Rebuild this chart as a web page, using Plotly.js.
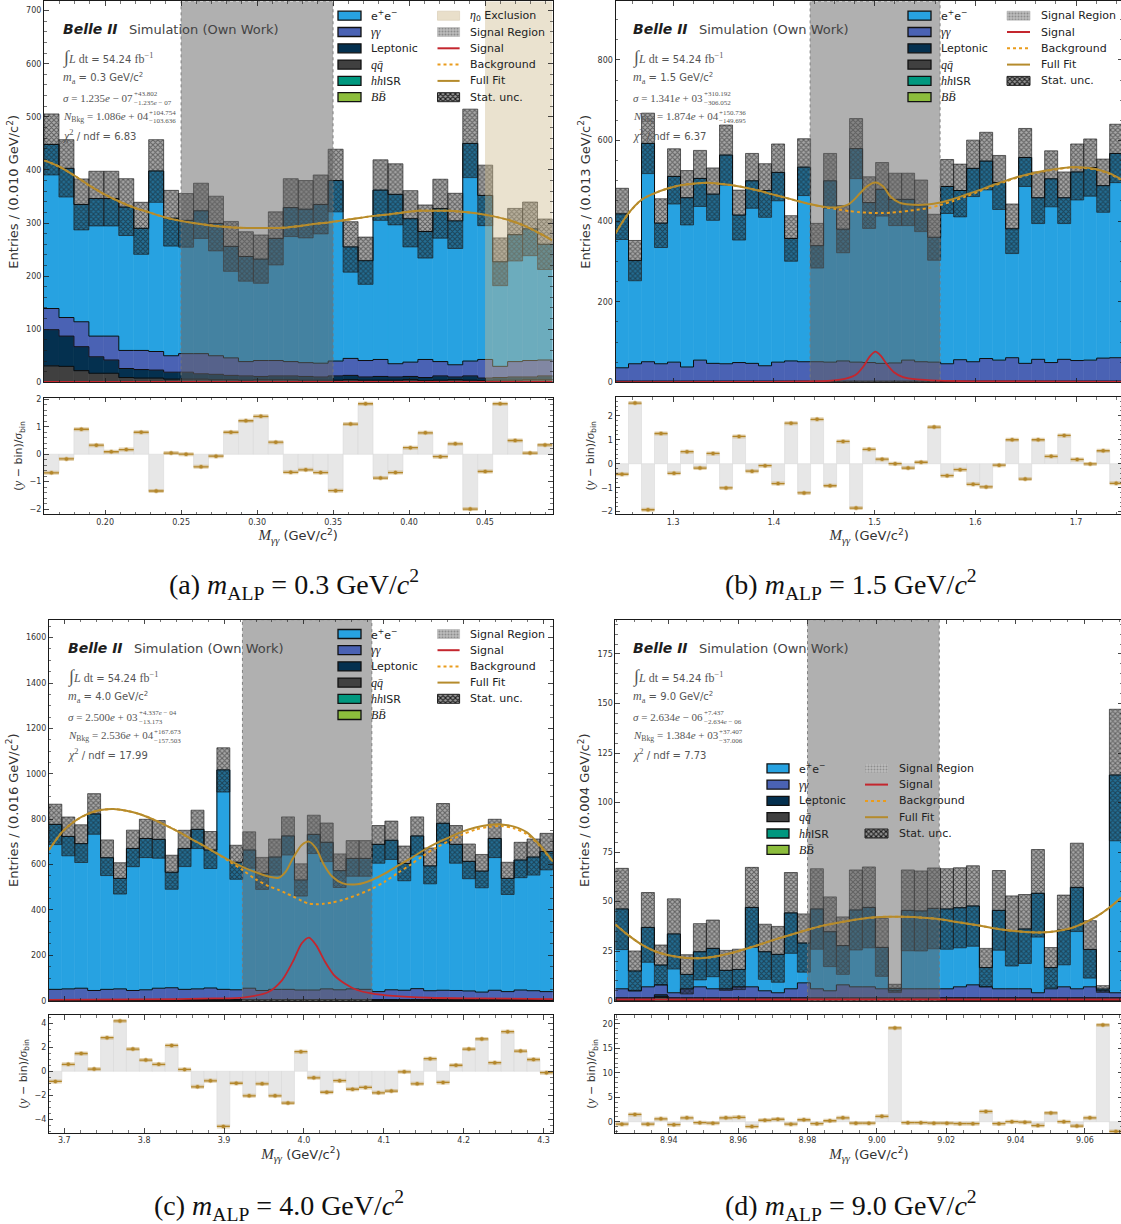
<!DOCTYPE html>
<html>
<head>
<meta charset="utf-8">
<script src="https://cdn.plot.ly/plotly-3.0.1.min.js"></script>
<style>
  html, body { margin: 0; padding: 0; overflow: hidden; background: #fff; }
  #chart { width: 1126px; height: 1224px; }
</style>
</head>
<body>
<div id="chart"></div>
<script>
// Figure size in px (slightly wider than the window so the right-hand panels run to the edge)
const W = 1126, H = 1224;
const fx = x => x / W;
const fy = y => 1 - y / H;

// ================= (a) m_ALP = 0.3 GeV/c^2 =================
const binLoA = 0.1598, binWidthA = 0.009841;
const eeA  = [309, 281, 221, 259, 259, 270, 230, 340, 259, 251, 269, 249, 210, 198, 191, 230, 290, 289, 299, 340, 210, 188, 319, 319, 270, 241, 288, 271, 410, 309, 197, 239, 248, 218];
const ggA  = [40, 35, 47, 39, 45, 34, 36, 35, 31, 35, 38, 35, 33, 27, 30, 29, 27, 26, 26, 28, 32, 31, 32, 25, 27, 34, 27, 23, 28, 35, 21, 29, 31, 30];
const lepA = [68, 57, 45, 31, 25, 17, 16, 15, 13, 13, 10, 10, 8, 8, 6, 7, 7, 7, 6, 8, 8, 6, 7, 6, 6, 6, 8, 5, 8, 5, 5, 6, 5, 7];
const qqA  = [31, 30, 22, 17, 17, 9, 8, 8, 6, 6, 6, 5, 5, 4, 5, 5, 5, 4, 4, 4, 5, 4, 4, 4, 5, 3, 4, 5, 4, 3, 4, 4, 5, 5];
const hhA  = [0, 0, 0, 0, 0, 0, 0, 0, 0, 0, 0, 0, 0, 0, 0, 0, 0, 0, 0, 0, 0, 0, 0, 0, 0, 0, 0, 0, 0, 0, 0, 0, 0, 0];
const bbA  = [0, 0, 0, 0, 0, 0, 0, 0, 0, 0, 0, 0, 0, 0, 0, 0, 0, 0, 0, 0, 0, 0, 0, 0, 0, 0, 0, 0, 0, 0, 0, 0, 0, 0];
const errA = [57.5, 54, 48, 51.5, 51.5, 53.5, 49, 59, 52.5, 50.5, 52, 51.5, 47, 46.5, 45.5, 50, 54.5, 54, 55.5, 59, 47.5, 44.5, 57, 57.5, 53, 50, 55.5, 52, 64.5, 57, 45, 49.5, 50.5, 47.5];
const pullA = [-0.68, -0.17, 0.91, 0.33, 0.09, 0.17, 0.80, -1.34, 0.04, 0.00, -0.46, -0.07, 0.80, 1.22, 1.38, 0.44, -0.66, -0.57, -0.67, -1.33, 1.10, 1.84, -0.87, -0.67, 0.24, 0.78, -0.09, 0.38, -2.00, -0.63, 1.84, 0.50, 0.04, 0.34];
const fitXA = [0.160, 0.170, 0.180, 0.189, 0.199, 0.209, 0.219, 0.229, 0.239, 0.248, 0.258, 0.268, 0.278, 0.288, 0.298, 0.307, 0.317, 0.327, 0.337, 0.347, 0.357, 0.366, 0.376, 0.386, 0.396, 0.406, 0.416, 0.426, 0.435, 0.445, 0.455, 0.465, 0.475, 0.485, 0.494];
const fitYA = [418, 406, 389, 372, 355, 341, 329, 320, 311, 305, 300, 296, 293, 291, 290.6, 290.6, 291, 294, 298, 301, 305, 309, 313, 316, 320, 323, 323, 323, 321, 318, 313, 306, 296, 282, 268];
const bkgXA = [0.160, 0.170, 0.180, 0.189, 0.199, 0.209, 0.219, 0.229, 0.239, 0.248, 0.258, 0.268, 0.278, 0.288, 0.298, 0.307, 0.317, 0.327, 0.337, 0.347, 0.357, 0.366, 0.376, 0.386, 0.396, 0.406, 0.416, 0.426, 0.435, 0.445, 0.455, 0.465, 0.475, 0.485, 0.494];
const bkgYA = [418, 406, 389, 372, 355, 341, 329, 320, 311, 305, 300, 296, 293, 291, 290.6, 290.6, 291, 294, 298, 301, 305, 309, 313, 316, 320, 323, 323, 323, 321, 318, 313, 306, 296, 282, 268];
const sigXA = [0.1598, 0.4944];
const sigYA = [0.6, 0.6];
const srA = [0.25, 0.35];
const exclA = [0.45, 0.4944];

// ================= (b) m_ALP = 1.5 GeV/c^2 =================
const binLoB = 1.2428, binWidthB = 0.012910;
const eeB  = [382, 256, 542, 349, 461, 420, 451, 420, 518, 366, 453, 435, 471, 304, 483, 288, 450, 327, 530, 397, 432, 406, 399, 387, 310, 440, 420, 480, 490, 441, 320, 511, 401, 456, 401, 468, 478, 428, 507];
const ggB  = [33, 43, 48, 43, 47, 35, 52, 44, 43, 46, 44, 38, 47, 50, 48, 48, 47, 50, 47, 46, 44, 45, 52, 48, 47, 43, 53, 48, 56, 52, 58, 44, 54, 46, 54, 51, 52, 57, 58];
const lepB = [2, 2, 2, 2, 2, 2, 2, 2, 2, 2, 2, 2, 2, 2, 2, 2, 2, 2, 2, 2, 2, 2, 2, 2, 2, 2, 2, 2, 2, 2, 2, 2, 2, 2, 2, 2, 2, 2, 2];
const qqB  = [1, 1, 1, 1, 1, 1, 1, 1, 1, 1, 1, 1, 1, 1, 1, 1, 1, 1, 1, 1, 1, 1, 1, 1, 1, 1, 1, 1, 1, 1, 1, 1, 1, 1, 1, 1, 1, 1, 1];
const hhB  = [0, 0, 0, 0, 0, 0, 0, 0, 0, 0, 0, 0, 0, 0, 0, 0, 0, 0, 0, 0, 0, 0, 0, 0, 0, 0, 0, 0, 0, 0, 0, 0, 0, 0, 0, 0, 0, 0, 0];
const bbB  = [0, 0, 0, 0, 0, 0, 0, 0, 0, 0, 0, 0, 0, 0, 0, 0, 0, 0, 0, 0, 0, 0, 0, 0, 0, 0, 0, 0, 0, 0, 0, 0, 0, 0, 0, 0, 0, 0, 0];
const errB = [63.5, 50, 75, 60.5, 68.5, 67.5, 69.5, 65, 74.5, 62, 68, 66.5, 70.5, 56.5, 70.5, 55.5, 68, 58.5, 74.5, 64, 66.5, 65, 65, 64, 57, 67, 65.5, 70, 71.5, 67, 61.5, 72, 64, 69.5, 64, 69.5, 71, 66, 72.5];
const pullB = [-0.44, 2.53, -1.92, 1.26, -0.40, 0.50, -0.18, 0.43, -1.01, 1.14, -0.31, -0.08, -0.83, 1.69, -1.22, 1.85, -0.92, 0.93, -1.85, 0.60, 0.19, 0.00, -0.18, 0.06, 1.53, -0.50, -0.25, -0.86, -0.97, -0.06, 1.00, -0.64, 1.00, 0.31, 1.18, 0.18, -0.01, 0.54, -0.82];
const fitXB = [1.2428, 1.2556, 1.2687, 1.2814, 1.2945, 1.3073, 1.3201, 1.3332, 1.3459, 1.3590, 1.3718, 1.3846, 1.3977, 1.4104, 1.4235, 1.4363, 1.4491, 1.4622, 1.4749, 1.4856, 1.4927, 1.5008, 1.5086, 1.5157, 1.5246, 1.5352, 1.5526, 1.5653, 1.5781, 1.5912, 1.6039, 1.6170, 1.6298, 1.6426, 1.6557, 1.6684, 1.6815, 1.6943, 1.7071, 1.7202, 1.7329, 1.7460];
const fitYB = [370, 419, 453, 469, 481, 489, 493, 495, 493, 489, 483, 476, 467, 459, 450, 442, 436, 434, 443, 469, 487, 496, 486, 461, 446, 441, 441, 446, 455, 466, 477, 489, 500, 510, 518, 525, 530, 534, 533, 529, 519, 502];
const bkgXB = [1.2428, 1.2556, 1.2687, 1.2814, 1.2945, 1.3073, 1.3201, 1.3332, 1.3459, 1.3590, 1.3718, 1.3846, 1.3977, 1.4104, 1.4235, 1.4363, 1.4491, 1.4622, 1.4749, 1.4856, 1.4927, 1.5008, 1.5086, 1.5157, 1.5246, 1.5352, 1.5526, 1.5653, 1.5781, 1.5912, 1.6039, 1.6170, 1.6298, 1.6426, 1.6557, 1.6684, 1.6815, 1.6943, 1.7071, 1.7202, 1.7329, 1.7460];
const bkgYB = [370, 419, 453, 469, 481, 489, 493, 495, 493, 489, 483, 476, 467, 459, 450, 442, 435, 430, 425, 422, 421, 420, 420, 421, 423, 426, 432, 440, 450, 462, 474, 487, 498, 509, 517, 524, 529, 533, 532, 528, 518, 501];
const sigXB = [1.2428, 1.365, 1.436, 1.457, 1.4714, 1.482, 1.4891, 1.4955, 1.5008, 1.5061, 1.5121, 1.5192, 1.5281, 1.5423, 1.5635, 1.5954, 1.7463];
const sigYB = [0.5, 0.8, 2, 4, 9, 20, 40, 65, 76, 66, 45, 25, 13, 7, 4, 2.5, 1];
const srB = [1.436, 1.565];

// ================= (c) m_ALP = 4.0 GeV/c^2 =================
const binLoC = 3.6807, binWidthC = 0.016179;
const eeC  = [727, 672, 637, 778, 580, 487, 626, 667, 656, 509, 621, 703, 608, 967, 562, 609, 516, 583, 676, 485, 686, 646, 525, 575, 577, 649, 659, 559, 673, 550, 736, 644, 571, 533, 669, 499, 573, 589, 617];
const ggC  = [45, 47, 50, 40, 45, 47, 40, 43, 50, 52, 45, 47, 51, 45, 43, 50, 40, 45, 45, 42, 42, 47, 43, 47, 45, 35, 43, 41, 48, 39, 41, 40, 38, 33, 41, 35, 42, 39, 35];
const lepC = [3, 3, 3, 3, 3, 3, 3, 3, 3, 3, 3, 3, 3, 3, 3, 3, 3, 3, 3, 3, 3, 3, 3, 3, 3, 3, 3, 3, 3, 3, 3, 3, 3, 3, 3, 3, 3, 3, 3];
const qqC  = [2, 2, 2, 2, 2, 2, 2, 2, 2, 2, 2, 2, 2, 2, 2, 2, 2, 2, 2, 2, 2, 2, 2, 2, 2, 2, 2, 2, 2, 2, 2, 2, 2, 2, 2, 2, 2, 2, 2];
const hhC  = [0, 0, 0, 0, 0, 0, 0, 0, 0, 0, 0, 0, 0, 0, 0, 0, 0, 0, 0, 0, 0, 0, 0, 0, 0, 0, 0, 0, 0, 0, 0, 0, 0, 0, 0, 0, 0, 0, 0];
const bbC  = [0, 0, 0, 0, 0, 0, 0, 0, 0, 0, 0, 0, 0, 0, 0, 0, 0, 0, 0, 0, 0, 0, 0, 0, 0, 0, 0, 0, 0, 0, 0, 0, 0, 0, 0, 0, 0, 0, 0];
const errC = [89, 85.5, 83, 89.5, 78.5, 69, 80.5, 84.5, 83, 75, 80, 84.5, 81.5, 97.5, 75, 80, 70.5, 79.5, 84, 71, 84.5, 85, 74, 78.5, 78.5, 83, 84.5, 76.5, 84, 79, 87, 83, 76.5, 73.5, 84.5, 71, 78, 79.5, 80.5];
const pullC = [-0.85, 0.58, 1.48, 0.18, 2.80, 4.20, 1.85, 0.93, 0.58, 2.15, 0.15, -1.30, -0.80, -4.60, -1.00, -2.05, -1.05, -2.05, -2.65, 1.63, -0.55, -1.75, -0.78, -1.50, -1.35, -1.80, -1.65, -0.05, -1.05, 1.05, -0.93, 0.50, 1.85, 2.70, 0.72, 3.30, 1.68, 0.98, -0.12];
const fitXC = [3.6807, 3.6977, 3.7133, 3.7294, 3.7455, 3.7616, 3.7777, 3.7938, 3.8099, 3.8265, 3.8426, 3.8587, 3.8748, 3.8909, 3.9074, 3.9235, 3.9396, 3.9557, 3.9683, 3.9772, 3.9861, 3.9973, 4.0063, 4.0152, 4.0241, 4.0353, 4.0487, 4.0666, 4.0850, 4.1015, 4.1176, 4.1337, 4.1498, 4.1659, 4.1820, 4.1981, 4.2147, 4.2308, 4.2469, 4.2630, 4.2791, 4.2952, 4.3117];
const fitYC = [664, 745, 792, 823, 840, 845, 837, 823, 801, 774, 745, 713, 682, 649, 617, 589, 566, 547, 542, 569, 627, 686, 701, 671, 605, 547, 517, 513, 532, 561, 595, 627, 663, 694, 720, 745, 763, 774, 777, 767, 742, 686, 613];
const bkgXC = [3.6807, 3.6977, 3.7133, 3.7294, 3.7455, 3.7616, 3.7777, 3.7938, 3.8099, 3.8265, 3.8426, 3.8587, 3.8748, 3.8909, 3.9074, 3.9235, 3.9396, 3.9557, 3.9683, 3.9772, 3.9861, 3.9973, 4.0063, 4.0152, 4.0241, 4.0353, 4.0487, 4.0666, 4.0850, 4.1015, 4.1176, 4.1337, 4.1498, 4.1659, 4.1820, 4.1981, 4.2147, 4.2308, 4.2469, 4.2630, 4.2791, 4.2952, 4.3117];
const bkgYC = [664, 745, 792, 823, 840, 845, 837, 823, 801, 774, 745, 713, 682, 649, 612, 575, 535, 505, 488, 474, 460, 440, 428, 425, 427, 433, 444, 466, 493, 525, 563, 600, 640, 675, 705, 732, 754, 766, 770, 760, 734, 683, 610];
const sigXC = [3.6807, 3.8430, 3.8878, 3.9235, 3.9548, 3.9727, 3.9861, 3.9973, 4.0063, 4.0152, 4.0264, 4.0376, 4.0510, 4.0666, 4.0845, 4.1114, 4.1561, 4.2231, 4.3117];
const sigYC = [4, 7, 10, 14, 37, 91, 172, 253, 278, 245, 172, 113, 76, 47, 32, 21, 13, 10, 7];
const srC = [3.923, 4.085];

// ================= (d) m_ALP = 9.0 GeV/c^2 =================
const binLoD = 8.9246, binWidthD = 0.003749;
const eeD  = [40.3, 10.0, 30.0, 10.0, 29.7, 7.3, 17.7, 20.4, 9.3, 8.8, 40.1, 19.7, 19.4, 38.3, 20.1, 40.3, 29.8, 19.8, 38.8, 40.1, 20.9, 1.2, 39.6, 39.3, 40.6, 40.3, 39.9, 39.8, 9.7, 39.6, 29.2, 30.2, 50.2, 10.7, 28.7, 51.2, 18.9, 0.9, 109.9];
const ggD  = [4.5, 3.5, 5.5, 5.0, 2.5, 4.5, 5.5, 4.5, 4.5, 5.5, 5.5, 3.5, 2.5, 4.5, 7.5, 4.5, 3.5, 6.5, 5.5, 5.5, 4.5, 3.5, 4.5, 4.5, 4.5, 4.5, 5.5, 6.5, 5.5, 4.5, 4.5, 4.5, 2.5, 4.5, 5.5, 4.5, 5.5, 3.5, 2.5];
const lepD = [1, 1, 1, 1, 1, 1, 1, 1, 1, 1, 1, 1, 1, 1, 1, 1, 1, 1, 1, 1, 1, 1, 1, 1, 1, 1, 1, 1, 1, 1, 1, 1, 1, 1, 1, 1, 1, 1, 1];
const qqD  = [0.5, 0.5, 0.5, 0.5, 0.5, 0.5, 0.5, 0.5, 0.5, 0.5, 0.5, 0.5, 0.5, 0.5, 0.5, 0.5, 0.5, 0.5, 0.5, 0.5, 0.5, 0.5, 0.5, 0.5, 0.5, 0.5, 0.5, 0.5, 0.5, 0.5, 0.5, 0.5, 0.5, 0.5, 0.5, 0.5, 0.5, 0.5, 0.5];
const hhD  = [0, 0, 0, 1.5, 0, 0, 0, 0, 0, 0, 0, 0, 0, 0, 0, 0, 0, 0, 0, 0, 0, 0, 0, 0, 0, 0, 0, 0, 0, 0, 0, 0, 0, 0, 0, 0, 0, 0, 0];
const bbD  = [0, 0, 0, 0, 0, 0, 0, 0, 0, 0, 0, 0, 0, 0, 0, 0, 0, 0, 0, 0, 0, 0, 0, 0, 0, 0, 0, 0, 0, 0, 0, 0, 0, 0, 0, 0, 0, 0, 0];
const errD = [20.5, 10.1, 17.6, 10.1, 17.7, 9.9, 14.2, 14.3, 10.1, 10.2, 20.2, 13.9, 14.1, 20.4, 14.7, 20.3, 17.6, 14.5, 20.2, 20.4, 14.6, 2.1, 20.4, 20.2, 20.4, 20.3, 20.2, 20.3, 9.7, 20.1, 17.7, 17.4, 22.1, 10.1, 17.6, 22.3, 14.5, 1.7, 33.2];
const pullD = [-0.5, 1.5, -0.5, 0.6, -0.6, 0.8, -0.2, -0.3, 0.8, 0.9, -1.0, 0.3, 0.5, -0.5, 0.4, -0.4, 0.2, 0.8, -0.3, -0.3, 1.1, 19.2, -0.2, -0.2, -0.3, -0.3, -0.4, -0.4, 2.1, -0.4, 0.0, -0.1, -0.8, 1.8, 0.0, -0.9, 0.8, 19.8, -2.0];
const fitXD = [8.9246, 8.9283, 8.9321, 8.9358, 8.9396, 8.9433, 8.9470, 8.9509, 8.9546, 8.9584, 8.9621, 8.9658, 8.9696, 8.9733, 8.9771, 8.9808, 8.9845, 8.9883, 8.9920, 8.9958, 8.9996, 9.0033, 9.0071, 9.0108, 9.0146, 9.0183, 9.0220, 9.0258, 9.0295, 9.0333, 9.0370, 9.0407, 9.0445, 9.0483, 9.0520, 9.0558, 9.0595, 9.0633, 9.0670, 9.0708];
const fitYD = [38.5, 33.1, 28.4, 25.1, 23.1, 21.9, 21.4, 21.7, 22.7, 24.2, 26.1, 28.1, 30.3, 32.3, 34.3, 36.2, 37.9, 39.2, 40.4, 41.4, 42.1, 42.4, 42.4, 42.2, 41.7, 41.1, 40.0, 39.0, 37.9, 36.7, 35.7, 35.0, 34.5, 34.5, 35.2, 36.5, 39.0, 42.4, 46.9, 52.5];
const bkgXD = fitXD.slice();
const bkgYD = [38.5, 33.1, 28.4, 25.1, 23.1, 21.9, 21.4, 21.7, 22.7, 24.2, 26.1, 28.1, 30.3, 32.3, 34.3, 36.2, 37.9, 39.2, 40.4, 41.4, 42.1, 42.4, 42.4, 42.2, 41.7, 41.1, 40.0, 39.0, 37.9, 36.7, 35.7, 35.0, 34.5, 34.5, 35.2, 36.5, 39.0, 42.4, 46.9, 52.5];
const sigXD = [8.9246, 9.0708];
const sigYD = [0.6, 0.6];
const srD = [8.980, 9.018];

// ---------------- styling ----------------
const COLORS = {
  ee: '#27a2e1', gg: '#4a62b4', lep: '#04304f', qq: '#404040', hh: '#00987f', bb: '#8cbd3c',
  signal: '#c4262e', bkg: '#ea9c1c', fit: '#b58b2c', pull: '#b3862a',
};
const STACK = ['bb', 'hh', 'qq', 'lep', 'gg', 'ee'];   // bottom -> top

const panels = [
  { tag: 'a', mass: '0.3', binLabel: '0.010', lo: binLoA, bw: binWidthA,
    comp: {ee: eeA, gg: ggA, lep: lepA, qq: qqA, hh: hhA, bb: bbA}, err: errA, pull: pullA,
    fit: [fitXA, fitYA], bkg: [bkgXA, bkgYA], sig: [sigXA, sigYA], sr: srA, excl: exclA,
    sigma: ['1.235<i>e</i> − 07', '+43.802', '−1.235<i>e</i> − 07'],
    nbkg: ['1.086<i>e</i> + 04', '+104.754', '−103.636'], chi2: '6.83' },
  { tag: 'b', mass: '1.5', binLabel: '0.013', lo: binLoB, bw: binWidthB,
    comp: {ee: eeB, gg: ggB, lep: lepB, qq: qqB, hh: hhB, bb: bbB}, err: errB, pull: pullB,
    fit: [fitXB, fitYB], bkg: [bkgXB, bkgYB], sig: [sigXB, sigYB], sr: srB, excl: null,
    sigma: ['1.341<i>e</i> + 03', '+310.192', '−306.052'],
    nbkg: ['1.874<i>e</i> + 04', '+150.736', '−149.695'], chi2: '6.37' },
  { tag: 'c', mass: '4.0', binLabel: '0.016', lo: binLoC, bw: binWidthC,
    comp: {ee: eeC, gg: ggC, lep: lepC, qq: qqC, hh: hhC, bb: bbC}, err: errC, pull: pullC,
    fit: [fitXC, fitYC], bkg: [bkgXC, bkgYC], sig: [sigXC, sigYC], sr: srC, excl: null,
    sigma: ['2.500<i>e</i> + 03', '+4.337<i>e</i> − 04', '−13.173'],
    nbkg: ['2.536<i>e</i> + 04', '+167.673', '−157.503'], chi2: '17.99' },
  { tag: 'd', mass: '9.0', binLabel: '0.004', lo: binLoD, bw: binWidthD,
    comp: {ee: eeD, gg: ggD, lep: lepD, qq: qqD, hh: hhD, bb: bbD}, err: errD, pull: pullD,
    fit: [fitXD, fitYD], bkg: [bkgXD, bkgYD], sig: [sigXD, sigYD], sr: srD, excl: null,
    sigma: ['2.634<i>e</i> − 06', '+7.437', '−2.634<i>e</i> − 06'],
    nbkg: ['1.384<i>e</i> + 03', '+37.407', '−37.006'], chi2: '7.73' },
];

// pixel geometry of each panel block
const GEO = [
  { x: [44, 552.5], main: [1.3, 382.3], res: [397.7, 514.3], yMax: 717.6, rRange: [-2.19, 2.06],
    yDt: 100, yMin: 20, xDt: 0.05, xMin: 0.01, xFmt: '.2f', rDt: 1, rMin: 0.2,
    info: [61, 29], legRows: [15.7, 16.3], c1: [338, 361, 369], c2: [437.5, 459.6, 468], cap: [294, 584] },
  { x: [615.5, 1122.7], main: [1.3, 382.3], res: [397.3, 514.3], yMax: 945.6, rRange: [-2.11, 2.77],
    yDt: 200, yMin: 50, xDt: 0.1, xMin: 0.02, xFmt: '.1f', rDt: 1, rMin: 0.2,
    info: [631, 29], legRows: [15.7, 16.3], c1: [908, 931, 939], c2: [1007, 1030, 1039], cap: [851, 584] },
  { x: [48.9, 552.9], main: [619.7, 1000.7], res: [1015, 1132.7], yMax: 1679, rRange: [-5.12, 4.69],
    yDt: 200, yMin: 50, xDt: 0.1, xMin: 0.02, xFmt: '.1f', rDt: 2, rMin: 0.5,
    info: [66, 648], legRows: [634, 16.2], c1: [338, 361, 369], c2: [437.5, 459.6, 468], cap: [279, 1205] },
  { x: [615.4, 1122.4], main: [619.7, 1000.7], res: [1015, 1132.7], yMax: 192.3, rRange: [-2.25, 21.84],
    yDt: 25, yMin: 5, xDt: 0.02, xMin: 0.005, xFmt: '.2f', rDt: 5, rMin: 1,
    info: [631, 648], legRows: [768.3, 16.3], c1: [767, 789, 797.5], c2: [865, 888, 897], cap: [851, 1205] },
];

const traces = [];
const shapes = [];
const annotations = [];
const layout = {
  width: W, height: H,
  margin: {l: 0, r: 0, t: 0, b: 0},
  paper_bgcolor: '#ffffff', plot_bgcolor: 'rgba(0,0,0,0)',
  showlegend: false, hovermode: false,
  barmode: 'overlay', bargap: 0,
  font: {family: 'DejaVu Sans', color: '#333'},
};

const ax = i => (i === 1 ? '' : String(i));

function axisBase(extra) {
  return Object.assign({
    showline: true, linecolor: '#1a1a1a', linewidth: 1, mirror: 'allticks',
    ticks: 'inside', ticklen: 4.5, tickwidth: 0.8, tickcolor: '#1a1a1a',
    showgrid: false, zeroline: false, fixedrange: true, automargin: false,
    tickfont: {family: 'DejaVu Sans', size: 8, color: '#333'},
    tickmode: 'linear', tick0: 0,
  }, extra);
}
function minor(dt) {
  return {ticks: 'inside', ticklen: 2.5, tickwidth: 0.6, tickcolor: '#1a1a1a', dtick: dt, showgrid: false};
}

// text helpers
const measureCtx = document.createElement('canvas').getContext('2d');
function textWidth(str, font) { measureCtx.font = font; return measureCtx.measureText(str).width; }
function stripTags(s) { return s.replace(/<[^>]+>/g, ''); }
function note(x, y, text, font, extra) {
  annotations.push(Object.assign({
    xref: 'paper', yref: 'paper', x: fx(x), y: fy(y), text: text,
    showarrow: false, xanchor: 'left', yanchor: 'middle', font: font,
  }, extra || {}));
}
const SERIF = 'font-family:Liberation Serif';
const MATHFONT = 'Liberation Serif';

function infoBlock(P, g) {
  const x0 = g.info[0], y0 = g.info[1];
  const gray = '#555';
  const sans = {family: 'DejaVu Sans', size: 10, color: gray};
  const serif = {family: MATHFONT, size: 11, color: gray};
  const tiny = {family: MATHFONT, size: 7, color: gray};
  note(x0, y0, '<b><i>Belle II</i></b>', {family: 'DejaVu Sans', size: 14, color: '#1e1e1e'});
  note(x0 + 66, y0, 'Simulation (Own Work)', {family: 'DejaVu Sans', size: 13, color: '#444'});
  note(x0, y0 + 28, `<span style="${SERIF};font-size:18px"><i>∫</i></span><span style="${SERIF};font-size:12px"><i>L</i> dt</span> = 54.24 <span style="${SERIF};font-size:12px">fb<sup>−1</sup></span>`, sans);
  note(x0, y0 + 49, `<span style="${SERIF};font-size:12px"><i>m</i><sub>a</sub></span> = ${P.mass} GeV/c<sup>2</sup>`, sans);
  // σ with stacked upper / lower uncertainties
  const ws = textWidth('σ = ' + stripTags(P.sigma[0]), '11px "Liberation Serif"');
  note(x0, y0 + 69, `<i>σ</i> = ${P.sigma[0]}`, serif);
  note(x0 + ws + 1.5, y0 + 65, P.sigma[1], tiny);
  note(x0 + ws + 1.5, y0 + 73.5, P.sigma[2], tiny);
  // N_Bkg with stacked upper / lower uncertainties
  const wn = textWidth('N', 'italic 11px "Liberation Serif"') + textWidth('Bkg', '7.7px "Liberation Serif"') +
             textWidth(' = ' + stripTags(P.nbkg[0]), '11px "Liberation Serif"');
  note(x0, y0 + 88, `<i>N</i><sub>Bkg</sub> = ${P.nbkg[0]}`, serif);
  note(x0 + wn + 1.5, y0 + 84, P.nbkg[1], tiny);
  note(x0 + wn + 1.5, y0 + 92.5, P.nbkg[2], tiny);
  note(x0, y0 + 106, `<span style="${SERIF};font-size:12px"><i>χ</i><sup>2</sup></span> / ndf = ${P.chi2}`, sans);
}

function rectShape(x0, x1, yc, fill, lineColor, lw) {
  shapes.push({type: 'rect', xref: 'paper', yref: 'paper', layer: 'above',
    x0: fx(x0), x1: fx(x1), y0: fy(yc + 4.5), y1: fy(yc - 4.5),
    fillcolor: fill, line: {color: lineColor, width: lw}});
}
function lineShape(x0, x1, yc, color, dash) {
  shapes.push({type: 'line', xref: 'paper', yref: 'paper', layer: 'above',
    x0: fx(x0), x1: fx(x1), y0: fy(yc), y1: fy(yc), line: {color: color, width: 2, dash: dash}});
}
function hatchPatch(x0, x1, yc, pattern, lineColor, lw) {
  traces.push({type: 'scatter', mode: 'lines', xaxis: 'x9', yaxis: 'y9',
    x: [x0, x1, x1, x0, x0], y: [yc - 4.5, yc - 4.5, yc + 4.5, yc + 4.5, yc - 4.5],
    fill: 'toself', fillcolor: 'rgba(0,0,0,0)', fillpattern: pattern,
    line: {color: lineColor, width: lw}, hoverinfo: 'skip'});
}

// cross-hatch of the statistical-uncertainty band
const HATCH_UNC = {shape: 'x', fgcolor: '#151515', bgcolor: 'rgba(30,30,30,0.38)', size: 3.5, solidity: 0.5, fillmode: 'overlay'};

function legendBlock(P, g) {
  const row = i => g.legRows[0] + i * g.legRows[1];
  const lab = {family: 'DejaVu Sans', size: 11, color: '#222'};
  const col1 = [
    ['ee', 'e<sup>+</sup>e<sup>−</sup>'],
    ['gg', `<span style="${SERIF};font-size:12px"><i>γγ</i></span>`],
    ['lep', 'Leptonic'],
    ['qq', `<span style="${SERIF};font-size:12px"><i>qq̄</i></span>`],
    ['hh', `<span style="${SERIF};font-size:12px"><i>hh</i></span>ISR`],
    ['bb', `<span style="${SERIF};font-size:12px"><i>BB̄</i></span>`],
  ];
  col1.forEach((e, i) => {
    rectShape(g.c1[0], g.c1[1], row(i), COLORS[e[0]], '#111', 1.3);
    note(g.c1[2], row(i), e[1], lab);
  });
  let r = 0;
  if (P.excl) {
    rectShape(g.c2[0], g.c2[1], row(r), '#e9dfca', '#ddd2bb', 0.8);
    note(g.c2[2], row(r), `<span style="${SERIF};font-size:12px"><i>η</i></span><sub>0</sub> Exclusion`, lab);
    r++;
  }
  hatchPatch(g.c2[0], g.c2[1], row(r),
    {shape: '.', fgcolor: '#8d8d8d', bgcolor: '#bdbdbd', size: 3, solidity: 0.35}, '#b4b4b4', 0.6);
  note(g.c2[2], row(r), 'Signal Region', lab); r++;
  lineShape(g.c2[0], g.c2[1], row(r), COLORS.signal, 'solid');
  note(g.c2[2], row(r), 'Signal', lab); r++;
  lineShape(g.c2[0], g.c2[1], row(r), COLORS.bkg, 'dot');
  note(g.c2[2], row(r), 'Background', lab); r++;
  lineShape(g.c2[0], g.c2[1], row(r), COLORS.fit, 'solid');
  note(g.c2[2], row(r), 'Full Fit', lab); r++;
  hatchPatch(g.c2[0], g.c2[1], row(r),
    {shape: 'x', fgcolor: '#151515', bgcolor: '#9a9a9a', size: 3.5, solidity: 0.5}, '#222', 1);
  note(g.c2[2], row(r), 'Stat. unc.', lab);
}

panels.forEach((P, idx) => {
  const g = GEO[idx];
  const k = idx + 1, kr = idx + 5;
  const xm = 'x' + ax(k), ym = 'y' + ax(k);
  const xr = 'x' + ax(kr), yr = 'y' + ax(kr);
  const n = P.comp.ee.length;
  const edges = [];
  for (let i = 0; i <= n; i++) edges.push(P.lo + i * P.bw);
  const centers = edges.slice(0, n).map(e => e + P.bw / 2);
  const xRange = [edges[0], edges[n]];

  // stacked background components
  let base = new Array(n).fill(0);
  const levels = [];
  STACK.forEach(key => {
    const vals = P.comp[key];
    traces.push({type: 'bar', xaxis: xm, yaxis: ym, x: centers, y: vals, base: base.slice(),
      width: P.bw, marker: {color: COLORS[key], line: {color: COLORS[key], width: 0.6}}, hoverinfo: 'skip'});
    base = base.map((b, i) => b + vals[i]);
    levels.push(base.slice());
  });
  const total = base;

  // statistical uncertainty band
  traces.push({type: 'bar', xaxis: xm, yaxis: ym, x: centers,
    y: P.err.map(e => 2 * e), base: total.map((t, i) => t - P.err[i]), width: P.bw,
    marker: {color: 'rgba(0,0,0,0)', line: {color: 'rgba(25,25,25,0.8)', width: 0.8}, pattern: HATCH_UNC},
    hoverinfo: 'skip'});

  // step outlines of each stacked level
  const sx = [], sy = [];
  levels.forEach(lv => {
    edges.forEach((e, i) => { sx.push(e); sy.push(lv[Math.min(i, n - 1)]); });
    sx.push(null); sy.push(null);
  });
  traces.push({type: 'scatter', mode: 'lines', xaxis: xm, yaxis: ym, x: sx, y: sy,
    line: {color: '#0d0d0d', width: 1, shape: 'hv'}, connectgaps: false, hoverinfo: 'skip'});

  // signal region
  traces.push({type: 'scatter', mode: 'lines', xaxis: xm, yaxis: ym,
    x: [P.sr[0], P.sr[1], P.sr[1], P.sr[0], P.sr[0]], y: [0, 0, g.yMax, g.yMax, 0],
    fill: 'toself', fillcolor: 'rgba(97,97,97,0.5)',
    line: {color: 'rgba(120,120,120,0.9)', width: 1, dash: 'dot'}, hoverinfo: 'skip'});
  if (P.excl) {
    traces.push({type: 'scatter', mode: 'lines', xaxis: xm, yaxis: ym,
      x: [P.excl[0], P.excl[1], P.excl[1], P.excl[0], P.excl[0]], y: [0, 0, g.yMax, g.yMax, 0],
      fill: 'toself', fillcolor: 'rgba(205,185,140,0.42)', line: {width: 0}, hoverinfo: 'skip'});
  }

  // fit components
  traces.push({type: 'scatter', mode: 'lines', xaxis: xm, yaxis: ym, x: P.sig[0], y: P.sig[1],
    line: {color: COLORS.signal, width: 1.8, shape: 'spline', smoothing: 0.8}, hoverinfo: 'skip'});
  traces.push({type: 'scatter', mode: 'lines', xaxis: xm, yaxis: ym, x: P.bkg[0], y: P.bkg[1],
    line: {color: COLORS.bkg, width: 2, dash: 'dot', shape: 'spline', smoothing: 0.8}, hoverinfo: 'skip'});
  traces.push({type: 'scatter', mode: 'lines', xaxis: xm, yaxis: ym, x: P.fit[0], y: P.fit[1],
    line: {color: COLORS.fit, width: 2, shape: 'spline', smoothing: 0.8}, hoverinfo: 'skip'});

  // residual panel
  traces.push({type: 'bar', xaxis: xr, yaxis: yr, x: centers, y: P.pull, width: P.bw,
    marker: {color: '#e7e7e7', line: {color: '#dadada', width: 0.6}}, hoverinfo: 'skip'});
  traces.push({type: 'scatter', mode: 'markers', xaxis: xr, yaxis: yr, x: centers, y: P.pull,
    marker: {size: 5, color: 'rgba(205,176,118,0.55)'},
    error_x: {type: 'constant', value: P.bw / 2, thickness: 4, width: 0, color: 'rgba(205,176,118,0.55)'},
    hoverinfo: 'skip'});
  traces.push({type: 'scatter', mode: 'markers', xaxis: xr, yaxis: yr, x: centers, y: P.pull,
    marker: {size: 3.5, color: COLORS.pull},
    error_x: {type: 'constant', value: P.bw / 2, thickness: 1.3, width: 0, color: COLORS.pull},
    hoverinfo: 'skip'});

  // axes
  layout['xaxis' + ax(k)] = axisBase({domain: [fx(g.x[0]), fx(g.x[1])], anchor: ym, range: xRange,
    dtick: g.xDt, minor: minor(g.xMin), showticklabels: false});
  layout['yaxis' + ax(k)] = axisBase({domain: [fy(g.main[1]), fy(g.main[0])], anchor: xm, range: [0, g.yMax],
    dtick: g.yDt, minor: minor(g.yMin),
    title: {text: `Entries / (${P.binLabel} GeV/c<sup>2</sup>)`, font: {family: 'DejaVu Sans', size: 13, color: '#333'}, standoff: 4}});
  layout['xaxis' + ax(kr)] = axisBase({domain: [fx(g.x[0]), fx(g.x[1])], anchor: yr, range: xRange,
    dtick: g.xDt, minor: minor(g.xMin), tickformat: g.xFmt,
    title: {text: `<span style="${SERIF};font-size:15px"><i>M</i><sub><i>γγ</i></sub></span> (GeV/c<sup>2</sup>)`,
            font: {family: 'DejaVu Sans', size: 13, color: '#333'}, standoff: 3}});
  layout['yaxis' + ax(kr)] = axisBase({domain: [fy(g.res[1]), fy(g.res[0])], anchor: xr, range: g.rRange,
    dtick: g.rDt, minor: minor(g.rMin),
    title: {text: `(<span style="${SERIF};font-size:13px"><i>y</i></span> − bin)/<span style="${SERIF};font-size:13px"><i>σ</i></span><sub>bin</sub>`,
            font: {family: 'DejaVu Sans', size: 11, color: '#333'}, standoff: 4}});

  infoBlock(P, g);
  legendBlock(P, g);

  // sub-figure caption
  annotations.push({xref: 'paper', yref: 'paper', x: fx(g.cap[0]), y: fy(g.cap[1]),
    xanchor: 'center', yanchor: 'middle', showarrow: false,
    text: `(${P.tag}) <i>m</i><sub>ALP</sub> = ${P.mass} GeV/<i>c</i><sup>2</sup>`,
    font: {family: 'Liberation Serif', size: 28, color: '#111'}});
});

// full-page overlay axes in pixel units, used for the hatched legend keys
layout.xaxis9 = {domain: [0, 1], range: [0, W], visible: false, fixedrange: true, anchor: 'y9'};
layout.yaxis9 = {domain: [0, 1], range: [H, 0], visible: false, fixedrange: true, anchor: 'x9'};

layout.shapes = shapes;
layout.annotations = annotations;

Plotly.newPlot('chart', traces, layout, {staticPlot: true, displayModeBar: false});
</script>
</body>
</html>
